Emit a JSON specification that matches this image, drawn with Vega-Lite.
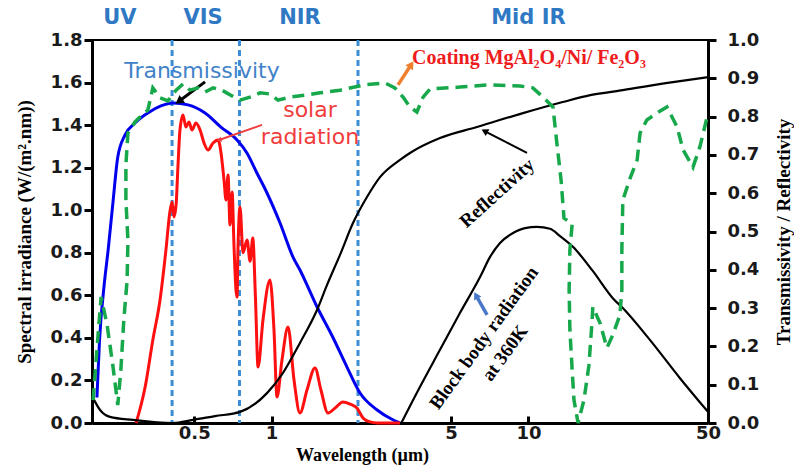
{
"$schema":"https://vega.github.io/schema/vega-lite/v6.json",
"width":616,"height":383,
"autosize":{"type":"none"},
"padding":{"left":92,"top":40,"right":86,"bottom":50},
"background":"white",
"config":{
 "view":{"stroke":"#000","strokeWidth":2},
 "axis":{"domainColor":"#000","domainWidth":3,"tickColor":"#000","tickWidth":3,"grid":false,"labelOverlap":false,"labelSeparation":0,
   "labelFont":"DejaVu Sans","labelFontWeight":"bold","labelFontSize":18,"labelColor":"#1a1a1a",
   "titleFont":"Liberation Serif","titleFontWeight":"bold","titleFontSize":19,"titleColor":"#000"},
 "axisRight":{"labelOverlap":false},
 "axisY":{"labelOverlap":false}
},
"datasets":{
 "bands":[{"w":0.41},{"w":0.75},{"w":2.17}],
 "blue":[{"w":0.209,"v":0.12},{"w":0.214,"v":0.39},{"w":0.224,"v":0.67},{"w":0.231,"v":0.81},{"w":0.241,"v":1.03},{"w":0.252,"v":1.25},{"w":0.269,"v":1.354},{"w":0.294,"v":1.41},{"w":0.33,"v":1.457},{"w":0.371,"v":1.49},{"w":0.413,"v":1.504},{"w":0.473,"v":1.495},{"w":0.551,"v":1.457},{"w":0.635,"v":1.391},{"w":0.734,"v":1.33},{"w":0.802,"v":1.269},{"w":0.877,"v":1.175},{"w":0.96,"v":1.081},{"w":1.079,"v":0.94},{"w":1.212,"v":0.78},{"w":1.29,"v":0.719},{"w":1.504,"v":0.545},{"w":1.73,"v":0.404},{"w":1.966,"v":0.263},{"w":2.21,"v":0.141},{"w":2.576,"v":0.061},{"w":2.978,"v":0.014},{"w":3.162,"v":0}],
 "red":[{"w":0.297,"v":0},{"w":0.322,"v":0.169},{"w":0.345,"v":0.39},{"w":0.368,"v":0.578},{"w":0.388,"v":0.813},{"w":0.402,"v":0.992},{"w":0.41,"v":1.039},{"w":0.417,"v":0.968},{"w":0.425,"v":1.025},{"w":0.432,"v":1.203},{"w":0.44,"v":1.377},{"w":0.452,"v":1.448},{"w":0.464,"v":1.391},{"w":0.477,"v":1.415},{"w":0.49,"v":1.377},{"w":0.508,"v":1.41},{"w":0.527,"v":1.377},{"w":0.546,"v":1.316},{"w":0.566,"v":1.283},{"w":0.592,"v":1.316},{"w":0.619,"v":1.33},{"w":0.635,"v":1.274},{"w":0.653,"v":1.142},{"w":0.665,"v":1.048},{"w":0.677,"v":1.166},{"w":0.689,"v":0.931},{"w":0.702,"v":1.086},{"w":0.714,"v":0.837},{"w":0.727,"v":0.625},{"w":0.734,"v":0.592},{"w":0.74,"v":0.813},{"w":0.754,"v":1.015},{"w":0.774,"v":0.8},{"w":0.803,"v":0.86},{"w":0.825,"v":0.76},{"w":0.845,"v":0.87},{"w":0.865,"v":0.6},{"w":0.886,"v":0.263},{"w":0.926,"v":0.484},{"w":0.986,"v":0.672},{"w":1.022,"v":0.437},{"w":1.05,"v":0.122},{"w":1.098,"v":0.296},{"w":1.159,"v":0.451},{"w":1.223,"v":0.202},{"w":1.29,"v":0.047},{"w":1.374,"v":0.155},{"w":1.476,"v":0.259},{"w":1.557,"v":0.155},{"w":1.658,"v":0.047},{"w":1.766,"v":0.07},{"w":1.897,"v":0.099},{"w":2.02,"v":0.089},{"w":2.15,"v":0.07},{"w":2.27,"v":0.024},{"w":2.417,"v":0.005},{"w":2.576,"v":0},{"w":3.162,"v":0}],
 "refl":[{"w":0.202,"r":0.065},{"w":0.215,"r":0.034},{"w":0.235,"r":0.016},{"w":0.289,"r":0.008},{"w":0.413,"r":0.0},{"w":0.494,"r":0.008},{"w":0.602,"r":0.018},{"w":0.754,"r":0.029},{"w":0.96,"r":0.078},{"w":1.108,"r":0.131},{"w":1.29,"r":0.209},{"w":1.503,"r":0.295},{"w":1.643,"r":0.36},{"w":1.847,"r":0.439},{"w":2.075,"r":0.522},{"w":2.352,"r":0.59},{"w":2.643,"r":0.642},{"w":3.162,"r":0.687},{"w":3.458,"r":0.705},{"w":4.525,"r":0.744},{"w":6.3,"r":0.773},{"w":9.52,"r":0.809},{"w":13.6,"r":0.838},{"w":17.4,"r":0.856},{"w":23.3,"r":0.869},{"w":36.5,"r":0.89},{"w":50,"r":0.903}],
 "hump":[{"w":3.2,"r":0},{"w":3.78,"r":0.094},{"w":4.525,"r":0.191},{"w":5.41,"r":0.287},{"w":6.48,"r":0.381},{"w":7.08,"r":0.433},{"w":7.75,"r":0.47},{"w":8.71,"r":0.496},{"w":9.7,"r":0.509},{"w":10.8,"r":0.512},{"w":12.13,"r":0.507},{"w":13.27,"r":0.488},{"w":14.9,"r":0.46},{"w":17.8,"r":0.397},{"w":21.3,"r":0.326},{"w":23.3,"r":0.3},{"w":29.7,"r":0.217},{"w":38.9,"r":0.117},{"w":50,"r":0.029}],
 "green":[{"i":1,"w":0.202,"r":0.06},{"i":2,"w":0.209,"r":0.191},{"i":3,"w":0.217,"r":0.329},{"i":4,"w":0.229,"r":0.256},{"i":5,"w":0.241,"r":0.151},{"i":6,"w":0.252,"r":0.047},{"i":7,"w":0.259,"r":0.138},{"i":8,"w":0.266,"r":0.269},{"i":9,"w":0.274,"r":0.373},{"i":10,"w":0.276,"r":0.478},{"i":11,"w":0.271,"r":0.582},{"i":12,"w":0.271,"r":0.674},{"i":13,"w":0.276,"r":0.757},{"i":14,"w":0.294,"r":0.786},{"i":15,"w":0.313,"r":0.804},{"i":16,"w":0.33,"r":0.817},{"i":17,"w":0.345,"r":0.875},{"i":18,"w":0.368,"r":0.849},{"i":19,"w":0.395,"r":0.841},{"i":20,"w":0.425,"r":0.869},{"i":21,"w":0.452,"r":0.885},{"i":22,"w":0.481,"r":0.869},{"i":23,"w":0.517,"r":0.875},{"i":24,"w":0.551,"r":0.864},{"i":25,"w":0.592,"r":0.875},{"i":26,"w":0.641,"r":0.869},{"i":27,"w":0.702,"r":0.854},{"i":28,"w":0.754,"r":0.843},{"i":29,"w":0.824,"r":0.851},{"i":30,"w":0.902,"r":0.862},{"i":31,"w":0.986,"r":0.859},{"i":32,"w":1.059,"r":0.843},{"i":33,"w":1.18,"r":0.851},{"i":34,"w":1.349,"r":0.856},{"i":35,"w":1.544,"r":0.862},{"i":36,"w":1.847,"r":0.869},{"i":37,"w":2.31,"r":0.883},{"i":38,"w":2.76,"r":0.888},{"i":39,"w":3.02,"r":0.875},{"i":40,"w":3.25,"r":0.851},{"i":41,"w":3.458,"r":0.825},{"i":42,"w":3.68,"r":0.812},{"i":43,"w":3.89,"r":0.851},{"i":44,"w":4.14,"r":0.872},{"i":45,"w":5.41,"r":0.877},{"i":46,"w":7.08,"r":0.883},{"i":47,"w":9.27,"r":0.88},{"i":48,"w":10.4,"r":0.875},{"i":49,"w":11.4,"r":0.851},{"i":50,"w":12.46,"r":0.825},{"i":51,"w":12.9,"r":0.731},{"i":52,"w":13.4,"r":0.634},{"i":53,"w":13.75,"r":0.535},{"i":54,"w":14.4,"r":0.525},{"i":55,"w":14.8,"r":0.52},{"i":56,"w":14.5,"r":0.452},{"i":57,"w":14.4,"r":0.347},{"i":58,"w":14.5,"r":0.243},{"i":59,"w":14.8,"r":0.138},{"i":60,"w":15.04,"r":0.06},{"i":61,"w":15.6,"r":0.0},{"i":62,"w":16.45,"r":0.06},{"i":63,"w":17.2,"r":0.151},{"i":64,"w":17.7,"r":0.269},{"i":65,"w":17.8,"r":0.303},{"i":66,"w":19.0,"r":0.261},{"i":67,"w":20.2,"r":0.196},{"i":68,"w":21.3,"r":0.23},{"i":69,"w":22.7,"r":0.282},{"i":70,"w":23.1,"r":0.347},{"i":71,"w":23.1,"r":0.452},{"i":72,"w":23.3,"r":0.582},{"i":73,"w":24.9,"r":0.64},{"i":74,"w":26.5,"r":0.687},{"i":75,"w":27.2,"r":0.757},{"i":76,"w":28.9,"r":0.791},{"i":77,"w":31.6,"r":0.809},{"i":78,"w":34.6,"r":0.825},{"i":79,"w":37.9,"r":0.773},{"i":80,"w":40.0,"r":0.713},{"i":81,"w":43.7,"r":0.668},{"i":82,"w":46.5,"r":0.721},{"i":83,"w":49.6,"r":0.799}]
},
"layer":[
 {"layer":[
  {"data":{"name":"bands"},"mark":{"type":"rule","color":"#3c8dd4","strokeWidth":3,"strokeDash":[6,4]},
   "encoding":{"x":{"field":"w","type":"quantitative","scale":{"type":"log","domain":[0.2,50],"nice":false},
     "axis":{"title":"Wavelength (µm)","values":[0.5,1,5,10,50],"format":"~g","tickSize":-7,"labelPadding":8,"titlePadding":4,"labelFlush":false,"labelOverlap":false,"titleX":270,"titleFontSize":18}}}},
  {"data":{"name":"blue"},"mark":{"type":"line","color":"#0000ee","strokeWidth":3,"interpolate":"monotone"},
   "encoding":{"x":{"field":"w","type":"quantitative","scale":{"type":"log","domain":[0.2,50],"nice":false}},
     "y":{"field":"v","type":"quantitative","scale":{"domain":[0,1.8],"nice":false},
       "axis":{"orient":"left","title":"Spectral irradiance (W/(m².nm))","values":[0,0.2,0.4,0.6,0.8,1,1.2,1.4,1.6,1.8],"format":".1f","tickSize":8,"labelPadding":2,"titlePadding":16}}}},
  {"data":{"name":"red"},"mark":{"type":"line","color":"#ff1010","strokeWidth":3,"interpolate":"monotone"},
   "encoding":{"x":{"field":"w","type":"quantitative"},"y":{"field":"v","type":"quantitative"}}},
  {"data":{"values":[{"t":"UV","w":0.257,"v":1.904},{"t":"VIS","w":0.541,"v":1.904},{"t":"NIR","w":1.29,"v":1.904},{"t":"Mid IR","w":10.0,"v":1.904}]},
   "mark":{"type":"text","font":"DejaVu Sans","fontWeight":"bold","fontSize":21,"color":"#2f78c4","baseline":"middle"},
   "encoding":{"x":{"field":"w","type":"quantitative"},"y":{"field":"v","type":"quantitative"},"text":{"field":"t"}}},
  {"data":{"values":[{"t":"Transmissivity","w":0.536,"v":1.654}]},
   "mark":{"type":"text","font":"DejaVu Sans","fontSize":22,"color":"#3f82c8","baseline":"middle"},
   "encoding":{"x":{"field":"w","type":"quantitative"},"y":{"field":"v","type":"quantitative"},"text":{"field":"t"}}},
  {"data":{"values":[{"t":"solar","w":1.411,"v":1.471},{"t":"radiation","w":1.411,"v":1.344}]},
   "mark":{"type":"text","font":"DejaVu Sans","fontSize":22,"color":"#f03c3c","baseline":"middle"},
   "encoding":{"x":{"field":"w","type":"quantitative"},"y":{"field":"v","type":"quantitative"},"text":{"field":"t"}}},
  {"data":{"values":[{"t":"Coating MgAl₂O₄/Ni/ Fe₂O₃","w":3.52,"v":1.716}]},
   "mark":{"type":"text","font":"Liberation Serif","fontWeight":"bold","fontSize":20,"color":"#ee1c1c","baseline":"middle","align":"left"},
   "encoding":{"x":{"field":"w","type":"quantitative"},"y":{"field":"v","type":"quantitative"},"text":{"field":"t"}}},
  {"data":{"values":[{"t":"Reflectivity","w":7.54,"v":1.081}]},
   "mark":{"type":"text","font":"Liberation Serif","fontWeight":"bold","fontSize":19,"color":"#000","baseline":"middle","angle":-42},
   "encoding":{"x":{"field":"w","type":"quantitative"},"y":{"field":"v","type":"quantitative"},"text":{"field":"t"}}},
  {"data":{"values":[{"t":"Block body radiation","w":6.71,"v":0.4},{"t":"at 360K","w":8.1,"v":0.329}]},
   "mark":{"type":"text","font":"Liberation Serif","fontWeight":"bold","fontSize":19,"color":"#000","baseline":"middle","angle":-54},
   "encoding":{"x":{"field":"w","type":"quantitative"},"y":{"field":"v","type":"quantitative"},"text":{"field":"t"}}},
  {"data":{"values":[{"w":0.551,"v":1.603,"w2":0.436,"v2":1.512}]},"mark":{"type":"rule","color":"#000","strokeWidth":3},
   "encoding":{"x":{"field":"w","type":"quantitative"},"y":{"field":"v","type":"quantitative"},"x2":{"field":"w2"},"y2":{"field":"v2"}}},
  {"data":{"values":[{"w":0.436,"v":1.512}]},"mark":{"type":"point","shape":"triangle-up","filled":true,"size":90,"angle":234,"color":"#000","opacity":1},
   "encoding":{"x":{"field":"w","type":"quantitative"},"y":{"field":"v","type":"quantitative"}}},
  {"data":{"values":[{"w":0.918,"v":1.401,"w2":0.625,"v2":1.33}]},"mark":{"type":"rule","color":"#f03c3c","strokeWidth":2},
   "encoding":{"x":{"field":"w","type":"quantitative"},"y":{"field":"v","type":"quantitative"},"x2":{"field":"w2"},"y2":{"field":"v2"}}},
  {"data":{"values":[{"w":0.625,"v":1.33}]},"mark":{"type":"point","shape":"triangle-up","filled":true,"size":30,"angle":251,"color":"#f03c3c","opacity":1},
   "encoding":{"x":{"field":"w","type":"quantitative"},"y":{"field":"v","type":"quantitative"}}},
  {"data":{"values":[{"w":3.106,"v":1.589,"w2":3.5,"v2":1.685}]},"mark":{"type":"rule","color":"#f08030","strokeWidth":3.5},
   "encoding":{"x":{"field":"w","type":"quantitative"},"y":{"field":"v","type":"quantitative"},"x2":{"field":"w2"},"y2":{"field":"v2"}}},
  {"data":{"values":[{"w":3.5,"v":1.685}]},"mark":{"type":"point","shape":"triangle-up","filled":true,"size":80,"angle":33,"color":"#f08030","opacity":1},
   "encoding":{"x":{"field":"w","type":"quantitative"},"y":{"field":"v","type":"quantitative"}}},
  {"data":{"values":[{"w":9.87,"v":1.269,"w2":6.75,"v2":1.372}]},"mark":{"type":"rule","color":"#000","strokeWidth":2},
   "encoding":{"x":{"field":"w","type":"quantitative"},"y":{"field":"v","type":"quantitative"},"x2":{"field":"w2"},"y2":{"field":"v2"}}},
  {"data":{"values":[{"w":6.75,"v":1.372}]},"mark":{"type":"point","shape":"triangle-up","filled":true,"size":60,"angle":298,"color":"#000","opacity":1},
   "encoding":{"x":{"field":"w","type":"quantitative"},"y":{"field":"v","type":"quantitative"}}},
  {"data":{"values":[{"w":6.9,"v":0.508,"w2":6.25,"v2":0.6}]},"mark":{"type":"rule","color":"#4a78c8","strokeWidth":3.5},
   "encoding":{"x":{"field":"w","type":"quantitative"},"y":{"field":"v","type":"quantitative"},"x2":{"field":"w2"},"y2":{"field":"v2"}}},
  {"data":{"values":[{"w":6.25,"v":0.6}]},"mark":{"type":"point","shape":"triangle-up","filled":true,"size":70,"angle":331,"color":"#4a78c8","opacity":1},
   "encoding":{"x":{"field":"w","type":"quantitative"},"y":{"field":"v","type":"quantitative"}}}
 ]},
 {"layer":[
  {"data":{"name":"refl"},"mark":{"type":"line","color":"#000","strokeWidth":2.2,"interpolate":"monotone"},
   "encoding":{"x":{"field":"w","type":"quantitative","scale":{"type":"log","domain":[0.2,50],"nice":false}},
     "y":{"field":"r","type":"quantitative","scale":{"domain":[0,1],"nice":false},
       "axis":{"orient":"right","title":"Transmissivity / Reflectivity","values":[0,0.1,0.2,0.3,0.4,0.5,0.6,0.7,0.8,0.9,1],"tickCount":11,"format":".1f","tickSize":8,"labelPadding":11,"titlePadding":16,"titleAngle":270,"titleBaseline":"top","labelOverlap":false,"labelSeparation":0,"labelFontSize":18}}}},
  {"data":{"name":"hump"},"mark":{"type":"line","color":"#000","strokeWidth":2.2,"interpolate":"monotone"},
   "encoding":{"x":{"field":"w","type":"quantitative"},"y":{"field":"r","type":"quantitative"}}},
  {"data":{"name":"green"},"mark":{"type":"line","color":"#16a84a","strokeWidth":3.5,"strokeDash":[12,7]},
   "encoding":{"x":{"field":"w","type":"quantitative"},"y":{"field":"r","type":"quantitative"},"order":{"field":"i","type":"quantitative"}}}
 ]}
],
"resolve":{"scale":{"y":"independent"},"axis":{"y":"independent"}}
}
